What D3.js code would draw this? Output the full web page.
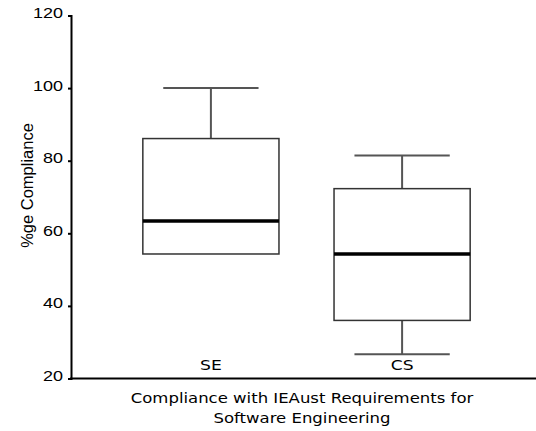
<!DOCTYPE html>
<html>
<head>
<meta charset="utf-8">
<script src="https://cdn.jsdelivr.net/npm/d3@7"></script>
<style>
  html, body { margin: 0; padding: 0; background: #fff; }
  svg { display: block; }
</style>
</head>
<body>
<div id="chart"></div>
<script>
// Box plot: compliance with IEAust requirements, SE vs CS

const categories = ["SE", "CS"];
const maxVals = [100, 81.4];
const q3Vals = [86.1, 72.3];
const medians = [63.4, 54.3];
const q1Vals = [54.3, 36.0];
const minVals = [54.3, 26.7];
const yTicks = [20, 40, 60, 80, 100, 120];

const yTitle = "%ge Compliance";
const xTitle = ["Compliance with IEAust Requirements for", "Software Engineering"];

const width = 536;
const height = 431;

const boxes = categories.map((c, i) => ({
  cat: c, min: minVals[i], q1: q1Vals[i], med: medians[i], q3: q3Vals[i], max: maxVals[i]
}));

const svg = d3.select("#chart")
  .append("svg")
  .attr("width", width)
  .attr("height", height)
  .style("font-family", "'Liberation Sans', Arial, sans-serif");

svg.append("rect")
  .attr("width", width)
  .attr("height", height)
  .attr("fill", "#fff");

const y = d3.scaleLinear()
  .domain([20, 120])
  .range([378.5, 15.5]);

const x = d3.scaleBand()
  .domain(categories)
  .range([74, 539])
  .paddingInner(0.288)
  .paddingOuter(0.36);

const axisX = 71;
const bw = x.bandwidth();
const capW = bw * 0.7;

// boxes
const g = svg.append("g");

const box = g.selectAll("g.box")
  .data(boxes)
  .join("g")
    .attr("class", "box")
    .attr("transform", d => `translate(${x(d.cat)},0)`);

// whiskers (vertical part)
box.append("line")
  .attr("x1", bw / 2).attr("x2", bw / 2)
  .attr("y1", d => y(d.max)).attr("y2", d => y(d.q3))
  .attr("stroke", "#555").attr("stroke-width", 2);

box.append("line")
  .attr("x1", bw / 2).attr("x2", bw / 2)
  .attr("y1", d => y(d.q1)).attr("y2", d => y(d.min))
  .attr("stroke", "#555").attr("stroke-width", 2);

// caps
box.append("line")
  .attr("x1", (bw - capW) / 2).attr("x2", (bw + capW) / 2)
  .attr("y1", d => y(d.max)).attr("y2", d => y(d.max))
  .attr("stroke", "#555").attr("stroke-width", 2);

box.filter(d => d.min < d.q1)
  .append("line")
  .attr("x1", (bw - capW) / 2).attr("x2", (bw + capW) / 2)
  .attr("y1", d => y(d.min)).attr("y2", d => y(d.min))
  .attr("stroke", "#555").attr("stroke-width", 2);

// box body
box.append("rect")
  .attr("x", 0)
  .attr("y", d => y(d.q3))
  .attr("width", bw)
  .attr("height", d => y(d.q1) - y(d.q3))
  .attr("fill", "#fff")
  .attr("stroke", "#333")
  .attr("stroke-width", 1.5);

// median
box.append("line")
  .attr("x1", 0).attr("x2", bw)
  .attr("y1", d => y(d.med)).attr("y2", d => y(d.med))
  .attr("stroke", "#000").attr("stroke-width", 3.5);

// category labels just above the x axis
box.append("text")
  .attr("transform", `translate(${bw / 2},${y(20) - 9}) scale(1.27,1)`)
  .attr("text-anchor", "middle")
  .style("font-family", "'DejaVu Sans', Verdana, sans-serif")
  .style("font-size", "13.5px")
  .attr("fill", "#000")
  .text(d => d.cat);

// y axis
const yAxis = svg.append("g")
  .attr("transform", `translate(${axisX},0)`)
  .call(d3.axisLeft(y).tickValues(yTicks).tickSize(3).tickPadding(0));

yAxis.select(".domain").attr("stroke", "#000").attr("stroke-width", 2);
yAxis.selectAll(".tick line").attr("stroke", "#000").attr("stroke-width", 2);
yAxis.selectAll(".tick text")
  .attr("x", null)
  .attr("dy", null)
  .attr("transform", "translate(-8,2) scale(1.2,1)")
  .attr("fill", "#000")
  .style("font-family", "'Liberation Sans', Arial, sans-serif")
  .style("font-size", "15px");

// x axis line
svg.append("line")
  .attr("x1", axisX - 1).attr("x2", width)
  .attr("y1", y(20)).attr("y2", y(20))
  .attr("stroke", "#000").attr("stroke-width", 2);

// y title
svg.append("text")
  .attr("transform", `translate(33,${y(20) - 193}) rotate(-90)`)
  .attr("text-anchor", "middle")
  .style("font-size", "16.5px")
  .attr("fill", "#000")
  .text(yTitle);

// x title
svg.selectAll("text.xtitle")
  .data(xTitle)
  .join("text")
    .attr("class", "xtitle")
    .attr("transform", (d, i) => `translate(302,${403 + i * 19.5}) scale(1.25,1)`)
    .attr("text-anchor", "middle")
    .style("font-family", "'DejaVu Sans', Verdana, sans-serif")
    .style("font-size", "13.2px")
    .attr("fill", "#000")
    .text(d => d);
</script>
</body>
</html>
